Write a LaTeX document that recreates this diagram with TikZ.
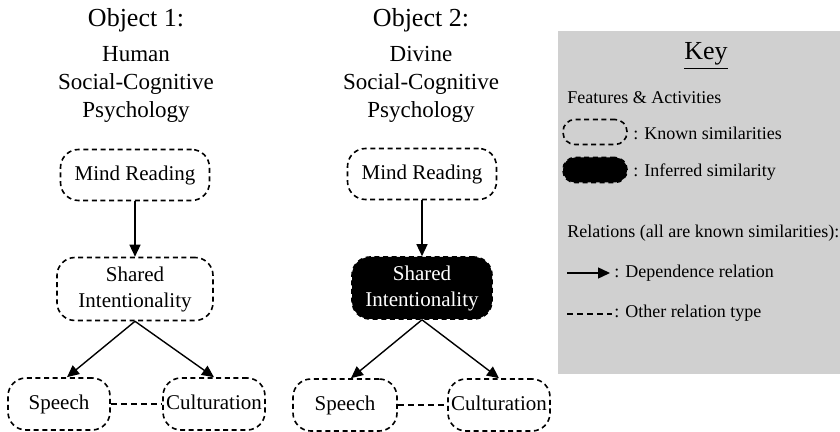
\documentclass[tikz,border=0pt]{standalone}
\usepackage{fontspec}
\setmainfont{Liberation Serif}
\usetikzlibrary{arrows.meta}
\definecolor{keygray}{RGB}{208,208,208}
\tikzset{
  feature/.style={draw, dash pattern=on 2.5pt off 1.8pt, line width=0.8pt, rounded corners=9pt,
    align=center, inner sep=1pt, font=\fontsize{10.5}{13}\selectfont},
  oneline/.style={text height=1.55ex, text depth=0.45ex},
  inferred/.style={feature, fill=black, text=white},
  dep/.style={-{Triangle[length=6pt,width=5.5pt]}, line width=0.7pt},
  other/.style={dash pattern=on 3pt off 2pt, line width=0.7pt},
  objtitle/.style={font=\fontsize{13}{15}\selectfont},
  objname/.style={align=center, font=\fontsize{11.5}{14}\selectfont},
  keytext/.style={anchor=west, inner sep=0pt, font=\fontsize{9}{11}\selectfont}
}
\begin{document}
\begin{tikzpicture}[x=0.5pt,y=-0.5pt]
\useasboundingbox (0,0) rectangle (840,432);
% key background
\fill[keygray] (558,31) rectangle (840,374);
% object 1
\node[objtitle] (t1) at (136,20) {Object 1:};
\node[objname] (n1) at (136,84) {Human\\Social-Cognitive\\Psychology};
\node[feature, oneline, minimum width=74.5pt, minimum height=25.5pt] (mind1) at (135,175) {Mind Reading};
\node[feature, minimum width=78pt, minimum height=31.5pt] (shared1) at (135,289) {Shared\\Intentionality};
\node[feature, oneline, minimum width=51pt, minimum height=26pt] (speech1) at (59,404) {Speech};
\node[feature, oneline, minimum width=51pt, minimum height=26pt] (cult1) at (214,404) {Culturation};
\draw[dep] (mind1) -- (shared1);
\draw[dep] (shared1.south) -- ([xshift=4pt]speech1.north);
\draw[dep] (shared1.south) -- (cult1.north);
\draw[other] (speech1) -- (cult1);
% object 2
\node[objtitle] (t2) at (421,20) {Object 2:};
\node[objname] (n2) at (421,84) {Divine\\Social-Cognitive\\Psychology};
\node[feature, oneline, minimum width=74.5pt, minimum height=25.5pt] (mind2) at (422,174) {Mind Reading};
\node[inferred, minimum width=70pt, minimum height=31pt] (shared2) at (422,288) {Shared\\Intentionality};
\node[feature, oneline, minimum width=52pt, minimum height=26pt] (speech2) at (345,405) {Speech};
\node[feature, oneline, minimum width=51pt, minimum height=26pt] (cult2) at (499,405) {Culturation};
\draw[dep] (mind2) -- (shared2);
\draw[dep] (shared2.south) -- ([xshift=3pt]speech2.north);
\draw[dep] (shared2.south) -- (cult2.north);
\draw[other] (speech2) -- (cult2);
% key
\node[font=\fontsize{13}{15}\selectfont] (key) at (706,56) {\underline{Key}};
\node[keytext] (feat) at (567,98) {Features \& Activities};
\node[feature, rounded corners=6pt, minimum width=32pt, minimum height=12.5pt] (kknown) at (595,132) {};
\node[keytext] (lknown) at (633,133) {: Known similarities};
\node[inferred, rounded corners=6pt, minimum width=32pt, minimum height=12.5pt] (kinf) at (595,170) {};
\node[keytext] (linf) at (633,172) {: Inferred similarity};
\node[keytext] (rel) at (567,233) {Relations (all are known similarities):};
\coordinate (da) at (567,273);
\coordinate (db) at (610,273);
\draw[dep] (da) -- (db);
\node[keytext] (ldep) at (614,273) {: Dependence relation};
\coordinate (oa) at (567,314);
\coordinate (ob) at (612,314);
\draw[other] (oa) -- (ob);
\node[keytext] (loth) at (614,313) {: Other relation type};
\end{tikzpicture}
\end{document}
